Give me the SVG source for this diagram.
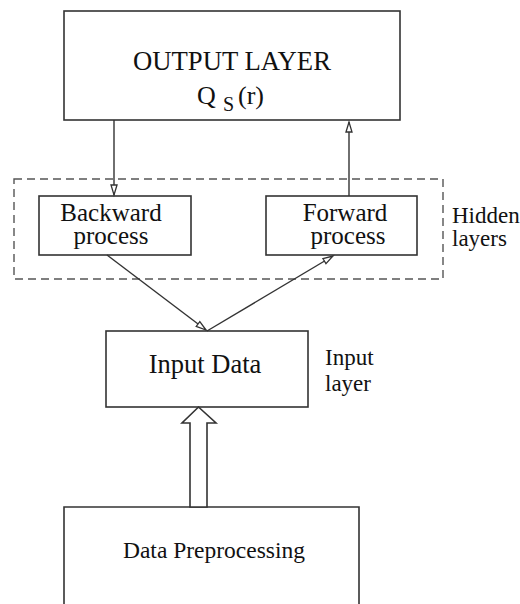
<svg xmlns="http://www.w3.org/2000/svg" width="520" height="604" viewBox="0 0 520 604">
<style>
.box{fill:#fff;stroke:#333;stroke-width:1.6}
.line{fill:none;stroke:#333;stroke-width:1.4}
.dash{fill:none;stroke:#555;stroke-width:1.4;stroke-dasharray:8,5}
text{font-family:"Liberation Serif","Times New Roman",serif;fill:#111}
.t26{font-size:25px}
.side{font-size:23px}
.t23{font-size:23.5px}
.mid{text-anchor:middle}
</style>
<defs>
<marker id="open" markerUnits="userSpaceOnUse" markerWidth="14" markerHeight="10" refX="11" refY="4" orient="auto">
<path d="M1,1 L11,4 L1,7 Z" fill="#fff" stroke="#333" stroke-width="1.3"/>
</marker>
</defs>
<rect x="0" y="0" width="520" height="604" fill="#fff"/>
<g id="hidden-layers">
<rect class="dash" x="14" y="179" width="429" height="100"/>
<text class="side" x="452" y="223">Hidden</text>
<text class="side" x="452" y="246">layers</text>
</g>
<g id="output-layer">
<rect class="box" x="64" y="11" width="336" height="109"/>
<text class="mid" x="232" y="70" style="font-size:26.7px">OUTPUT LAYER</text>
<text x="197" y="104" style="font-size:26px">Q</text>
<text x="223" y="111" style="font-size:20px">S</text>
<text x="238" y="104" style="font-size:26px">(r)</text>
</g>
<g id="backward-process">
<rect class="box" x="39" y="196" width="152" height="59"/>
<text class="t26 mid" x="111" y="221">Backward</text>
<text class="t26 mid" x="111" y="244">process</text>
</g>
<g id="forward-process">
<rect class="box" x="266" y="196" width="151" height="59"/>
<text class="t26 mid" x="345" y="221">Forward</text>
<text class="t26 mid" x="348" y="244">process</text>
</g>
<g id="input-data">
<rect class="box" x="106" y="331" width="202" height="76"/>
<text class="mid" x="205" y="373" style="font-size:26.5px">Input Data</text>
<text class="side" x="325" y="365">Input</text>
<text class="side" x="325" y="391">layer</text>
</g>
<g id="data-preprocessing">
<path class="box" d="M64,610 L64,507 L359,507 L359,610"/>
<text class="t23 mid" x="214" y="558">Data Preprocessing</text>
</g>
<g id="connectors">
<line class="line" x1="114" y1="120" x2="114" y2="195" marker-end="url(#open)"/>
<line class="line" x1="349" y1="196" x2="349" y2="122" marker-end="url(#open)"/>
<line class="line" x1="107" y1="255" x2="206" y2="330" marker-end="url(#open)"/>
<line class="line" x1="207" y1="331" x2="333" y2="256" marker-end="url(#open)"/>
<polygon class="box" points="190,507 190,423 182,423 198.5,407 216,423 207,423 207,507"/>
</g>
</svg>
